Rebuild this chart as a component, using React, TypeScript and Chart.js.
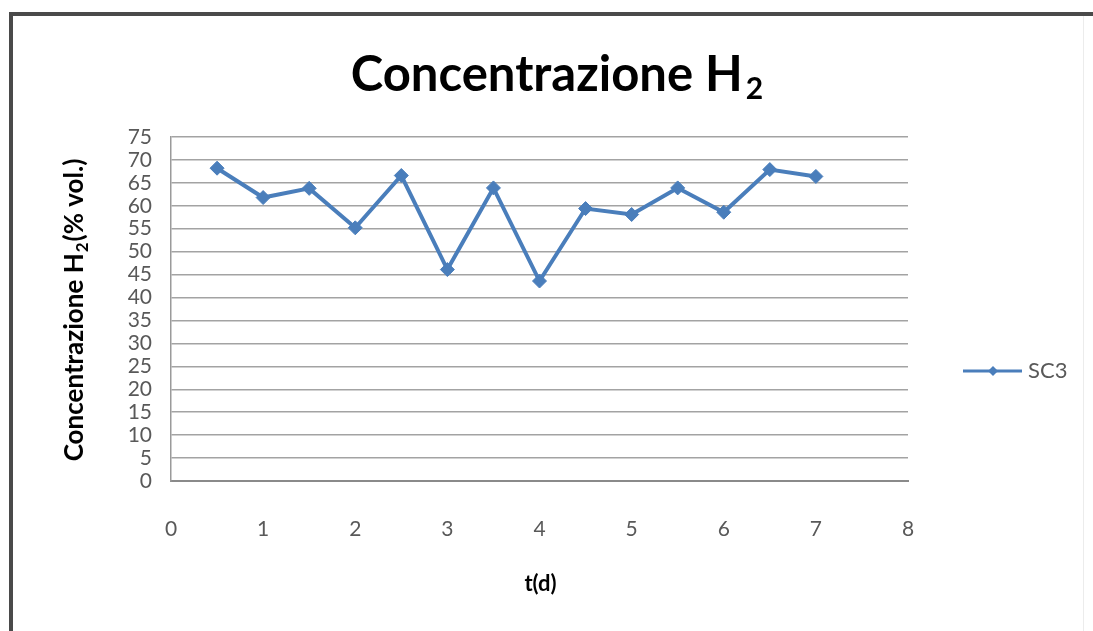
import React, { useEffect, useRef } from "react";
import { Chart, registerables } from "chart.js";

Chart.register(...registerables);

const tDays = [0.5, 1, 1.5, 2, 2.5, 3, 3.5, 4, 4.5, 5, 5.5, 6, 6.5, 7];
const h2Conc = [68.2, 61.8, 63.8, 55.2, 66.6, 46.1, 63.9, 43.6, 59.4, 58.1, 63.9, 58.6, 67.9, 66.4];
const seriesName = "SC3";
const titleMain = "Concentrazione H";
const titleSub = "2";
const yTitleParts = ["Concentrazione H", "2", "(% vol.)"];
const xTitle = "t(d)";
const xTicks = [0, 1, 2, 3, 4, 5, 6, 7, 8];
const yTicks = [0, 5, 10, 15, 20, 25, 30, 35, 40, 45, 50, 55, 60, 65, 70, 75];

const LINE_COLOR = "#4A7EBB";
const FONT = "Lato, 'Open Sans', sans-serif";

const decorPlugin = {
  id: "decor",
  afterDraw(chart: any) {
    const ctx = chart.ctx as CanvasRenderingContext2D;
    const area = chart.chartArea;
    ctx.save();
    // Title with subscript
    ctx.fillStyle = "#000";
    ctx.textBaseline = "alphabetic";
    ctx.font = `bold 49px ${FONT}`;
    const wMain = ctx.measureText(titleMain).width;
    ctx.font = `bold 30px ${FONT}`;
    const wSub = ctx.measureText(titleSub).width;
    const cx = 557;
    const x0 = cx - (wMain + wSub + 3) / 2;
    ctx.textAlign = "left";
    ctx.font = `bold 49px ${FONT}`;
    ctx.fillText(titleMain, x0, 91);
    ctx.font = `bold 30px ${FONT}`;
    ctx.fillText(titleSub, x0 + wMain + 3, 99);

    // Y axis title, rotated
    ctx.save();
    ctx.translate(83, (area.top + area.bottom) / 2 + 1);
    ctx.rotate(-Math.PI / 2);
    ctx.fillStyle = "#000";
    const fMain = `bold 26px ${FONT}`;
    const fSub = `bold 17px ${FONT}`;
    ctx.font = fMain;
    const w1 = ctx.measureText(yTitleParts[0]).width;
    const w3 = ctx.measureText(yTitleParts[2]).width;
    ctx.font = fSub;
    const w2 = ctx.measureText(yTitleParts[1]).width;
    const total = w1 + w2 + w3 + 2;
    let px = -total / 2;
    ctx.textAlign = "left";
    ctx.font = fMain;
    ctx.fillText(yTitleParts[0], px, 0);
    px += w1 + 1;
    ctx.font = fSub;
    ctx.fillText(yTitleParts[1], px, 5);
    px += w2 + 1;
    ctx.font = fMain;
    ctx.fillText(yTitleParts[2], px, 0);
    ctx.restore();

    // X axis title
    ctx.font = `bold 22px ${FONT}`;
    ctx.textAlign = "center";
    ctx.textBaseline = "middle";
    ctx.fillStyle = "#000";
    ctx.fillText(xTitle, (area.left + area.right) / 2 + 1, 584);

    // Legend
    const ds = chart.data.datasets[0];
    const ly = 371;
    ctx.strokeStyle = ds.borderColor;
    ctx.lineWidth = 3;
    ctx.beginPath();
    ctx.moveTo(963, ly);
    ctx.lineTo(1022, ly);
    ctx.stroke();
    ctx.fillStyle = ds.backgroundColor;
    ctx.beginPath();
    const r = 5;
    ctx.moveTo(993, ly - r);
    ctx.lineTo(993 + r, ly);
    ctx.lineTo(993, ly + r);
    ctx.lineTo(993 - r, ly);
    ctx.closePath();
    ctx.fill();
    ctx.fillStyle = "#595959";
    ctx.font = `22px ${FONT}`;
    ctx.textAlign = "left";
    ctx.textBaseline = "middle";
    ctx.fillText(ds.label, 1028, ly);
    ctx.restore();
  },
};

export default function App() {
  const canvasRef = useRef<HTMLCanvasElement | null>(null);

  useEffect(() => {
    if (!canvasRef.current) return;
    const chart = new Chart(canvasRef.current, {
      type: "scatter",
      data: {
        datasets: [
          {
            label: seriesName,
            data: tDays.map((t, i) => ({ x: t, y: h2Conc[i] })),
            showLine: true,
            borderColor: LINE_COLOR,
            backgroundColor: LINE_COLOR,
            borderWidth: 4,
            pointStyle: "rectRot",
            pointRadius: 7,
            pointBorderWidth: 1,
          },
        ],
      },
      options: {
        animation: false,
        responsive: false,
        maintainAspectRatio: false,
        layout: { padding: { left: 0, top: 137, right: 185, bottom: 0 } },
        plugins: {
          legend: { display: false },
          title: { display: false },
          tooltip: { enabled: false },
        },
        scales: {
          x: {
            type: "linear",
            min: 0,
            max: 8,
            afterBuildTicks: (scale: any) => {
              scale.ticks = xTicks.map((v) => ({ value: v }));
            },
            afterFit: (scale: any) => {
              scale.height = 150;
            },
            grid: { display: false, drawTicks: false },
            border: { display: true, color: "#8a8a8a", width: 2 },
            ticks: {
              padding: 36,
              color: "#595959",
              font: { family: FONT, size: 21 },
              maxRotation: 0,
            },
          },
          y: {
            type: "linear",
            min: 0,
            max: 75,
            afterBuildTicks: (scale: any) => {
              scale.ticks = yTicks.map((v) => ({ value: v }));
            },
            afterFit: (scale: any) => {
              scale.width = 171;
            },
            grid: { color: "#a3a3a3", lineWidth: 1.5, drawTicks: false },
            border: { display: true, color: "#9a9a9a", width: 1.5 },
            ticks: {
              padding: 19,
              color: "#595959",
              font: { family: FONT, size: 21, lineHeight: 1 },
              autoSkip: false,
            },
          },
        },
      },
      plugins: [decorPlugin],
    });
    return () => chart.destroy();
  }, []);

  return (
    <div style={{ position: "fixed", left: 0, top: 0, width: 1093, height: 631, background: "#fff", overflow: "hidden" }}>
      <canvas ref={canvasRef} width={1093} height={631} style={{ display: "block" }} />
      <div style={{ position: "absolute", left: 9, top: 12, width: 1084, height: 4, background: "#4a4a4a", pointerEvents: "none" }} />
      <div style={{ position: "absolute", left: 9, top: 12, width: 4, height: 619, background: "#4a4a4a", pointerEvents: "none" }} />
      <div style={{ position: "absolute", left: 1083, top: 16, width: 1, height: 615, background: "#ececec", pointerEvents: "none" }} />
    </div>
  );
}
